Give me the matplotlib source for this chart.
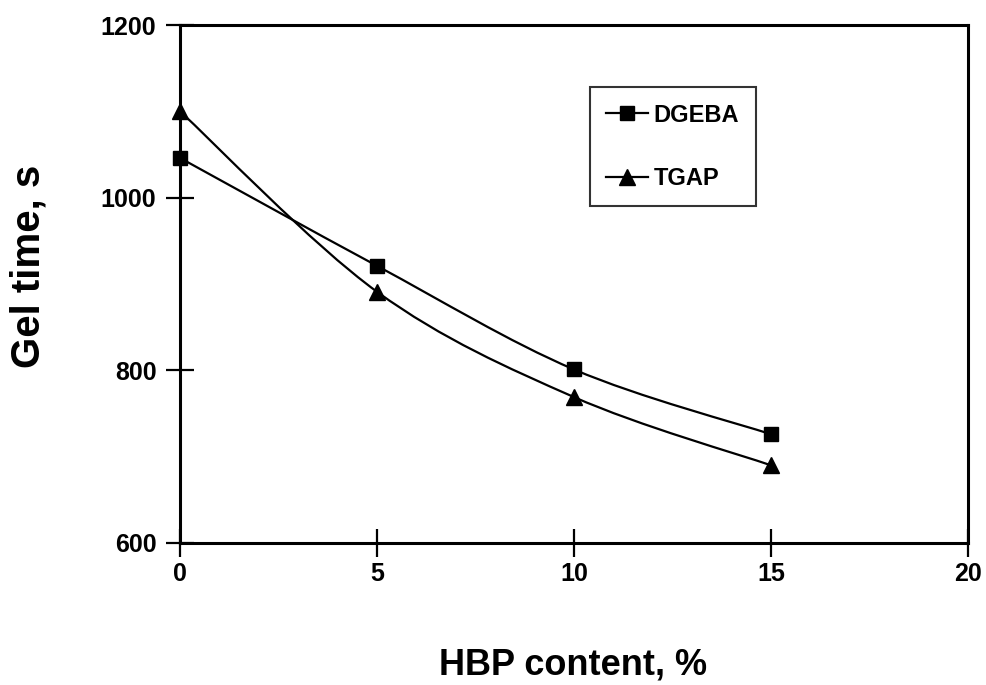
import matplotlib.pyplot as plt
from matplotlib.path import Path
from matplotlib.patches import PathPatch
import numpy as np

plt.rcParams['font.family'] = ['Liberation Sans', 'DejaVu Sans']
plt.rcParams['font.weight'] = 'bold'

# data
hbp = [0, 5, 10, 15]
dgeba = [1046, 921, 801, 726]
tgap = [1100, 891, 769, 690]


# Excel style smoothed line, drawn as cubic bezier segments
def smooth_path(xs, ys):
    pts = np.column_stack([xs, ys]).astype(float)
    n = len(pts)
    verts = [pts[0]]
    codes = [Path.MOVETO]
    for i in range(n - 1):
        p0 = pts[i - 1] if i > 0 else pts[i]
        p1 = pts[i]
        p2 = pts[i + 1]
        p3 = pts[i + 2] if i + 2 < n else pts[i + 1]
        c1 = p1 + (p2 - p0) / 6.0
        c2 = p2 - (p3 - p1) / 6.0
        verts += [c1, c2, p2]
        codes += [Path.CURVE4] * 3
    return Path(verts, codes)


fig = plt.figure(figsize=(9.86, 6.85), dpi=100)
ax = fig.add_axes([0.1826, 0.2073, 0.7991, 0.7562])

for ys in (dgeba, tgap):
    ax.add_patch(PathPatch(smooth_path(hbp, ys), facecolor='none',
                           edgecolor='black', lw=1.6, zorder=2))

ax.plot(hbp, dgeba, ls='none', marker='s', ms=10.5, color='black', zorder=3,
        clip_on=False)
ax.plot(hbp, tgap, ls='none', marker='^', ms=12, color='black', zorder=3,
        clip_on=False)

# legend handles (line + marker)
h1, = ax.plot([], [], '-s', color='black', lw=1.6, ms=10.5, label='DGEBA')
h2, = ax.plot([], [], '-^', color='black', lw=1.6, ms=12, label='TGAP')
leg = ax.legend(handles=[h1, h2], loc='upper left',
                bbox_to_anchor=(0.520, 0.880), frameon=True, fancybox=False,
                edgecolor='black', fontsize=17, handlelength=1.75,
                handletextpad=0.25, labelspacing=1.7, borderpad=0.7,
                borderaxespad=0)
leg.get_frame().set_linewidth(1.5)

ax.set_xlim(0, 20)
ax.set_ylim(600, 1200)
ax.set_xticks([0, 5, 10, 15, 20])
ax.set_yticks([600, 800, 1000, 1200])
ax.tick_params(direction='inout', length=20, width=1.6, labelsize=18)
ax.tick_params(axis='x', pad=4)
ax.tick_params(axis='y', pad=7)
for s in ax.spines.values():
    s.set_linewidth(2.2)

# axis titles
fig.text(573 / 986, 1 - 665 / 685, 'HBP content, %', fontsize=26,
         fontweight='bold', ha='center', va='center')
fig.text(29 / 986, 1 - 266 / 685, 'Gel time, s', fontsize=29,
         fontweight='bold', ha='center', va='center', rotation=90)

fig.savefig('out.png', dpi=100)
